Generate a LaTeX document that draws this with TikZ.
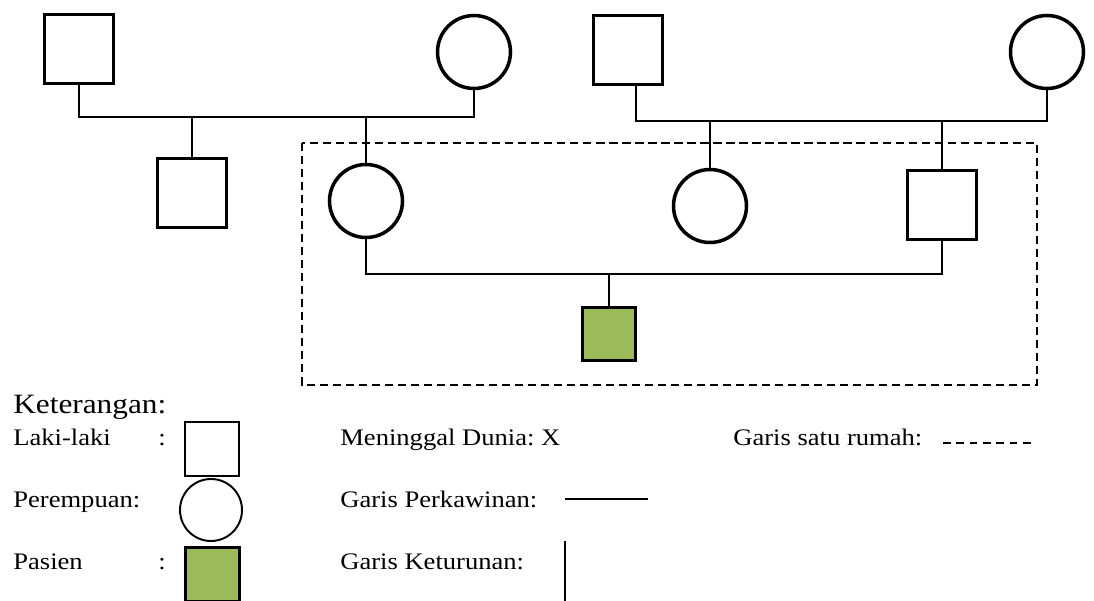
\documentclass[tikz,border=0pt]{standalone}
\usepackage{fontspec}
\setmainfont{Liberation Serif}[FakeStretch=1.12]
\definecolor{pdGreen}{HTML}{9BBB59}

\begin{document}
\begin{tikzpicture}[font=\fontsize{13.5pt}{15pt}\selectfont,
      male/.style={draw,line width=2pt,minimum size=1.38cm,inner sep=0pt},
      female/.style={draw,circle,line width=2pt,minimum size=1.46cm,inner sep=0pt},
      patient/.style={draw,line width=1.7pt,fill=pdGreen,minimum size=1.06cm,inner sep=0pt},
      kin/.style={line width=1.1pt},
      house/.style={line width=1.1pt,dash pattern=on 4.6pt off 2.8pt},
      lbl/.style={anchor=base west,inner sep=0pt}]

    \useasboundingbox (0,0) rectangle (21.88,12);
    \clip (0,0) rectangle (21.88,12);

    % GENERASI I — two couples of grandparents
    \node[male]   (kakekA) at (1.58,11.02) {};
    \node[female] (nenekA) at (9.48,10.96) {};
    \node[male]   (kakekB) at (12.56,11.00) {};
    \node[female] (nenekB) at (20.94,10.96) {};

    % GENERASI II
    \node[male]   (paman) at (3.84,8.14) {};
    \node[female] (ibu)   at (7.32,7.98) {};
    \node[female] (bibi)  at (14.20,7.88) {};
    \node[male]   (ayah)  at (18.84,7.90) {};

    % GENERASI III — the patient
    \node[patient] (pasien) at (12.18,5.32) {};

    % marriage lines and descent lines
    \coordinate (kawinA) at (0,9.66);
    \coordinate (kawinB) at (0,9.58);
    \coordinate (kawinC) at (0,6.52);
    \draw[kin] (kakekA.south) |- (kawinA -| nenekA.south) -- (nenekA.south);
    \draw[kin] ([xshift=0.16cm]kakekB.south) |- (kawinB -| nenekB.south) -- (nenekB.south);
    \draw[kin] (ibu.south) |- (kawinC -| ayah.south) -- (ayah.south);
    \foreach \c/\k in {paman/kawinA,ibu/kawinA,bibi/kawinB,ayah/kawinB,pasien/kawinC}
      \draw[kin] (\c.north) -- (\c.north |- \k);

    % one household
    \draw[house] (6.04,9.14) rectangle (20.74,4.30);

    % KETERANGAN
    \node[lbl,font=\fontsize{15.9pt}{18pt}\selectfont] (ket) at (0.26,3.74) {Keterangan:};
    \node[lbl] (tLaki)  at (0.26,3.09) {\makebox[2.9cm][l]{Laki-laki}:};
    \node[lbl] (tPerem) at (0.26,1.85) {Perempuan:};
    \node[lbl] (tPas)   at (0.26,0.62) {\makebox[2.9cm][l]{Pasien}:};
    \node[male,line width=1.1pt,minimum size=1.08cm]     (kLaki)  at (4.24,3.02) {};
    \node[female,line width=1.1pt,minimum size=1.24cm]   (kPerem) at (4.22,1.80) {};
    \node[patient,line width=1.4pt,minimum size=1.08cm] (kPas)   at (4.25,0.51) {};

    \node[lbl] (tMati)  at (6.80,3.10) {Meninggal Dunia:\ X};
    \node[lbl] (tKawin) at (6.80,1.86) {Garis Perkawinan:};
    \node[lbl] (tTurun) at (6.80,0.62) {Garis Keturunan:};
    \node[lbl] (tRumah) at (14.66,3.10) {Garis satu rumah:};

    \coordinate (gk1) at (11.30,2.02);
    \coordinate (gk2) at (12.96,2.02);
    \coordinate (gt1) at (11.30,1.18);
    \coordinate (gt2) at (11.30,-0.10);
    \coordinate (gr1) at (18.86,3.14);
    \coordinate (gr2) at (20.68,3.14);
    \draw[line width=0.8pt] (gk1) -- (gk2);
    \draw[line width=0.9pt] (gt1) -- (gt2);
    \draw[line width=0.9pt,dash pattern=on 4.3pt off 3.3pt] (gr1) -- (gr2);
  \end{tikzpicture}
\end{document}
